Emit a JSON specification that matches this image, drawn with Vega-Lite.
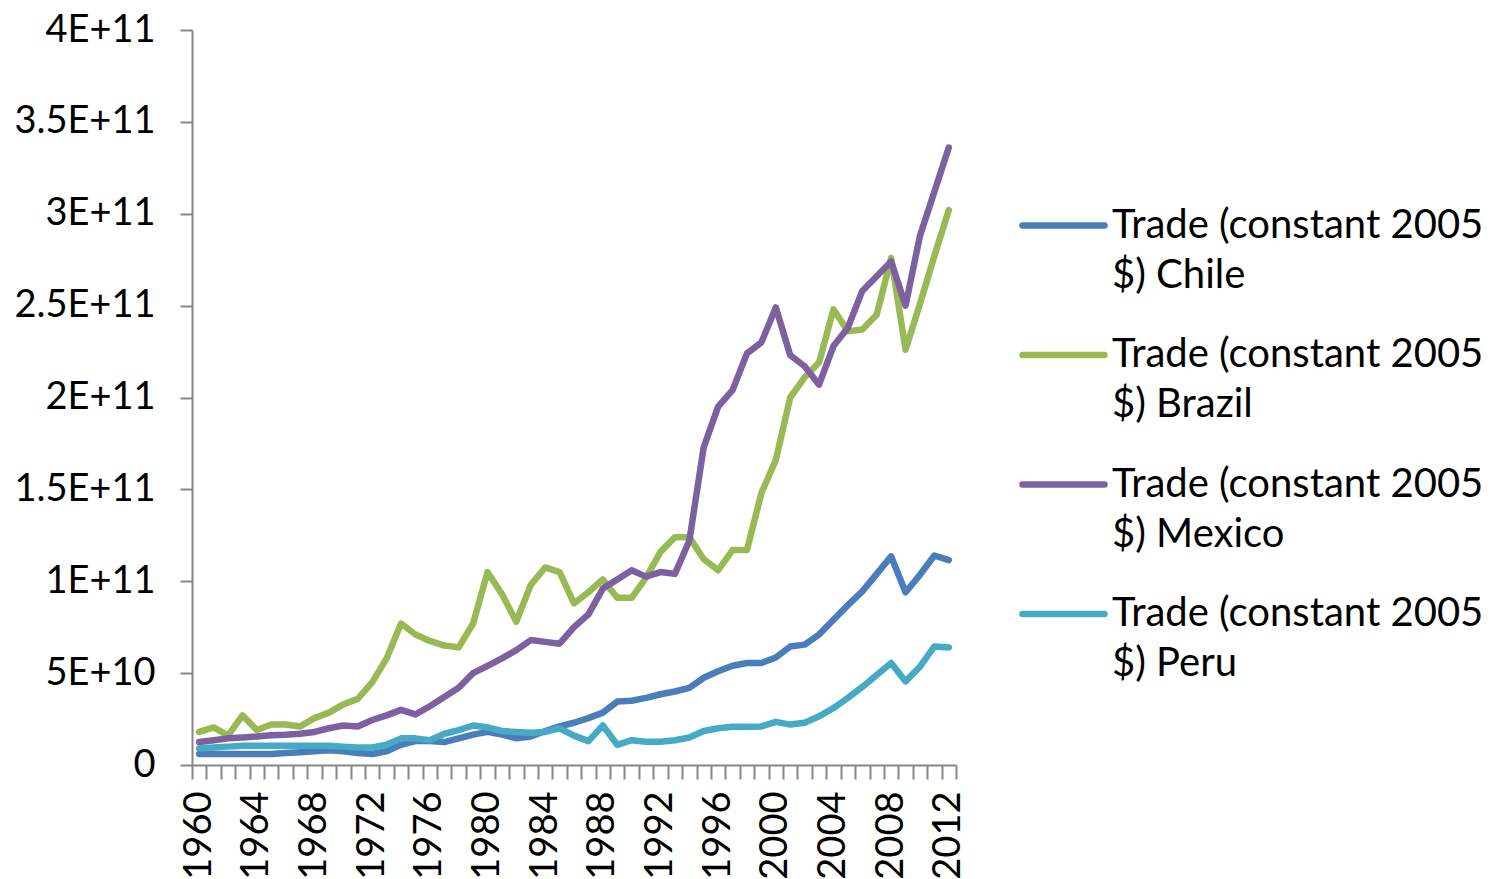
{
  "$schema": "https://vega.github.io/schema/vega-lite/v6.json",
  "width": 764,
  "height": 735,
  "autosize": "none",
  "padding": {"left": 192, "top": 30, "right": 539, "bottom": 114},
  "background": "white",
  "config": {"view": {"stroke": null}, "font": "Lato"},
  "data": {"values": [
    {"year": 1960, "Chile": 6.0e9, "Brazil": 1.8e10, "Mexico": 1.25e10, "Peru": 9.0e9},
    {"year": 1961, "Chile": 6.0e9, "Brazil": 2.05e10, "Mexico": 1.35e10, "Peru": 9.5e9},
    {"year": 1962, "Chile": 6.0e9, "Brazil": 1.6e10, "Mexico": 1.45e10, "Peru": 1.0e10},
    {"year": 1963, "Chile": 6.0e9, "Brazil": 2.7e10, "Mexico": 1.5e10, "Peru": 1.05e10},
    {"year": 1964, "Chile": 6.0e9, "Brazil": 1.9e10, "Mexico": 1.55e10, "Peru": 1.05e10},
    {"year": 1965, "Chile": 6.0e9, "Brazil": 2.2e10, "Mexico": 1.62e10, "Peru": 1.05e10},
    {"year": 1966, "Chile": 6.5e9, "Brazil": 2.2e10, "Mexico": 1.65e10, "Peru": 1.05e10},
    {"year": 1967, "Chile": 7.0e9, "Brazil": 2.1e10, "Mexico": 1.7e10, "Peru": 1.05e10},
    {"year": 1968, "Chile": 7.5e9, "Brazil": 2.55e10, "Mexico": 1.8e10, "Peru": 1.05e10},
    {"year": 1969, "Chile": 8.0e9, "Brazil": 2.85e10, "Mexico": 2.0e10, "Peru": 1.05e10},
    {"year": 1970, "Chile": 7.5e9, "Brazil": 3.3e10, "Mexico": 2.15e10, "Peru": 1.0e10},
    {"year": 1971, "Chile": 6.5e9, "Brazil": 3.6e10, "Mexico": 2.1e10, "Peru": 9.5e9},
    {"year": 1972, "Chile": 6.0e9, "Brazil": 4.5e10, "Mexico": 2.45e10, "Peru": 9.5e9},
    {"year": 1973, "Chile": 7.5e9, "Brazil": 5.8e10, "Mexico": 2.7e10, "Peru": 1.1e10},
    {"year": 1974, "Chile": 1.1e10, "Brazil": 7.7e10, "Mexico": 3.0e10, "Peru": 1.45e10},
    {"year": 1975, "Chile": 1.3e10, "Brazil": 7.1e10, "Mexico": 2.75e10, "Peru": 1.45e10},
    {"year": 1976, "Chile": 1.3e10, "Brazil": 6.75e10, "Mexico": 3.2e10, "Peru": 1.35e10},
    {"year": 1977, "Chile": 1.25e10, "Brazil": 6.5e10, "Mexico": 3.7e10, "Peru": 1.7e10},
    {"year": 1978, "Chile": 1.45e10, "Brazil": 6.4e10, "Mexico": 4.2e10, "Peru": 1.9e10},
    {"year": 1979, "Chile": 1.65e10, "Brazil": 7.7e10, "Mexico": 5.0e10, "Peru": 2.15e10},
    {"year": 1980, "Chile": 1.8e10, "Brazil": 1.05e11, "Mexico": 5.4e10, "Peru": 2.05e10},
    {"year": 1981, "Chile": 1.65e10, "Brazil": 9.3e10, "Mexico": 5.8e10, "Peru": 1.85e10},
    {"year": 1982, "Chile": 1.45e10, "Brazil": 7.8e10, "Mexico": 6.25e10, "Peru": 1.8e10},
    {"year": 1983, "Chile": 1.55e10, "Brazil": 9.8e10, "Mexico": 6.8e10, "Peru": 1.75e10},
    {"year": 1984, "Chile": 1.85e10, "Brazil": 1.075e11, "Mexico": 6.7e10, "Peru": 1.8e10},
    {"year": 1985, "Chile": 2.1e10, "Brazil": 1.05e11, "Mexico": 6.6e10, "Peru": 2.0e10},
    {"year": 1986, "Chile": 2.3e10, "Brazil": 8.8e10, "Mexico": 7.5e10, "Peru": 1.6e10},
    {"year": 1987, "Chile": 2.55e10, "Brazil": 9.4e10, "Mexico": 8.2e10, "Peru": 1.3e10},
    {"year": 1988, "Chile": 2.85e10, "Brazil": 1.01e11, "Mexico": 9.6e10, "Peru": 2.15e10},
    {"year": 1989, "Chile": 3.45e10, "Brazil": 9.1e10, "Mexico": 1.01e11, "Peru": 1.1e10},
    {"year": 1990, "Chile": 3.5e10, "Brazil": 9.1e10, "Mexico": 1.06e11, "Peru": 1.35e10},
    {"year": 1991, "Chile": 3.65e10, "Brazil": 1.02e11, "Mexico": 1.025e11, "Peru": 1.27e10},
    {"year": 1992, "Chile": 3.85e10, "Brazil": 1.16e11, "Mexico": 1.05e11, "Peru": 1.27e10},
    {"year": 1993, "Chile": 4.0e10, "Brazil": 1.24e11, "Mexico": 1.04e11, "Peru": 1.35e10},
    {"year": 1994, "Chile": 4.2e10, "Brazil": 1.24e11, "Mexico": 1.22e11, "Peru": 1.5e10},
    {"year": 1995, "Chile": 4.75e10, "Brazil": 1.12e11, "Mexico": 1.73e11, "Peru": 1.85e10},
    {"year": 1996, "Chile": 5.1e10, "Brazil": 1.06e11, "Mexico": 1.95e11, "Peru": 2.0e10},
    {"year": 1997, "Chile": 5.4e10, "Brazil": 1.17e11, "Mexico": 2.04e11, "Peru": 2.08e10},
    {"year": 1998, "Chile": 5.55e10, "Brazil": 1.17e11, "Mexico": 2.24e11, "Peru": 2.08e10},
    {"year": 1999, "Chile": 5.55e10, "Brazil": 1.48e11, "Mexico": 2.3e11, "Peru": 2.1e10},
    {"year": 2000, "Chile": 5.85e10, "Brazil": 1.66e11, "Mexico": 2.49e11, "Peru": 2.35e10},
    {"year": 2001, "Chile": 6.45e10, "Brazil": 2.0e11, "Mexico": 2.23e11, "Peru": 2.2e10},
    {"year": 2002, "Chile": 6.55e10, "Brazil": 2.11e11, "Mexico": 2.17e11, "Peru": 2.3e10},
    {"year": 2003, "Chile": 7.1e10, "Brazil": 2.19e11, "Mexico": 2.07e11, "Peru": 2.65e10},
    {"year": 2004, "Chile": 7.9e10, "Brazil": 2.48e11, "Mexico": 2.28e11, "Peru": 3.1e10},
    {"year": 2005, "Chile": 8.7e10, "Brazil": 2.36e11, "Mexico": 2.38e11, "Peru": 3.65e10},
    {"year": 2006, "Chile": 9.45e10, "Brazil": 2.37e11, "Mexico": 2.58e11, "Peru": 4.25e10},
    {"year": 2007, "Chile": 1.04e11, "Brazil": 2.45e11, "Mexico": 2.66e11, "Peru": 4.9e10},
    {"year": 2008, "Chile": 1.135e11, "Brazil": 2.76e11, "Mexico": 2.74e11, "Peru": 5.55e10},
    {"year": 2009, "Chile": 9.4e10, "Brazil": 2.26e11, "Mexico": 2.5e11, "Peru": 4.55e10},
    {"year": 2010, "Chile": 1.035e11, "Brazil": 2.51e11, "Mexico": 2.88e11, "Peru": 5.35e10},
    {"year": 2011, "Chile": 1.14e11, "Brazil": 2.77e11, "Mexico": 3.12e11, "Peru": 6.45e10},
    {"year": 2012, "Chile": 1.115e11, "Brazil": 3.02e11, "Mexico": 3.36e11, "Peru": 6.4e10}
  ]},
  "transform": [{"fold": ["Chile", "Brazil", "Mexico", "Peru"], "as": ["series", "value"]}],
  "mark": {"type": "line", "strokeWidth": 6.5, "strokeCap": "round", "strokeJoin": "round"},
  "encoding": {
    "x": {
      "field": "year", "type": "ordinal", "bandPosition": 0.5,
      "scale": {"type": "band", "paddingInner": 0, "paddingOuter": 0},
      "axis": {
        "title": null, "grid": false, "labelAngle": 270,
        "labelExpr": "datum.value % 4 == 0 ? datum.label : ''",
        "labelOverlap": false, "labelFont": "Lato", "labelFontSize": 38, "labelColor": "#000000",
        "labelPadding": 12, "tickBand": "extent", "tickSize": 14, "tickColor": "#868686", "tickWidth": 2,
        "domainColor": "#868686", "domainWidth": 2
      }
    },
    "y": {
      "field": "value", "type": "quantitative",
      "scale": {"domain": [0, 400000000000], "nice": false},
      "axis": {
        "title": null, "grid": false,
        "values": [0, 50000000000, 100000000000, 150000000000, 200000000000, 250000000000, 300000000000, 350000000000, 400000000000],
        "labelExpr": "datum.value == 0 ? '0' : format(datum.value / pow(10, floor(log(datum.value) / LN10 + 1e-9)), '.2~f') + 'E+' + floor(log(datum.value) / LN10 + 1e-9)",
        "labelFont": "Lato", "labelFontSize": 38, "labelColor": "#000000", "labelPadding": 25,
        "tickSize": 12, "tickColor": "#868686", "tickWidth": 2,
        "domainColor": "#868686", "domainWidth": 2
      }
    },
    "color": {
      "field": "series", "type": "nominal",
      "scale": {"domain": ["Chile", "Brazil", "Mexico", "Peru"], "range": ["#4A7EBB", "#98B954", "#7D60A0", "#46AAC5"]},
      "legend": {
        "title": null, "orient": "none", "legendX": 827, "legendY": 151, "padding": 0,
        "symbolType": "stroke", "symbolSize": 6724, "symbolStrokeWidth": 6.5,
        "labelFont": "Lato", "labelFontSize": 40, "labelColor": "#000000", "labelLimit": 600, "labelOffset": 4,
        "rowPadding": 14.5,
        "labelExpr": "['Trade (constant 2005', '$) ' + datum.label]",
        "encode": {"labels": {"update": {"lineHeight": {"value": 50}}}, "symbols": {"update": {"strokeCap": {"value": "round"}}}}
      }
    }
  }
}
